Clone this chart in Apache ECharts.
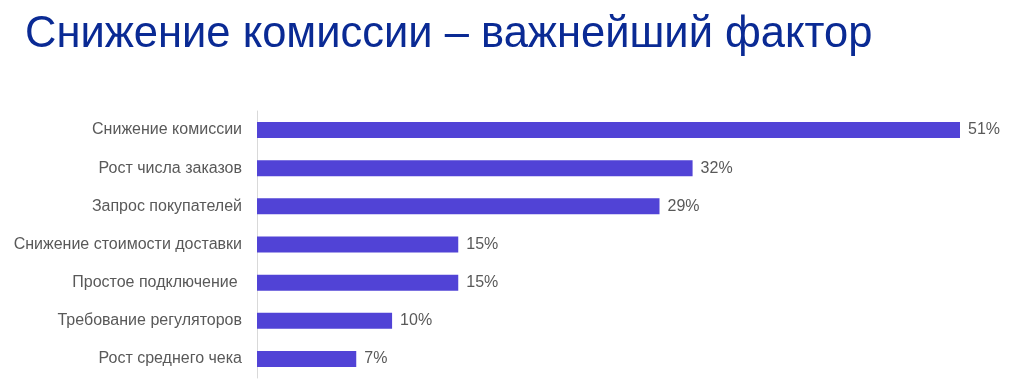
<!DOCTYPE html>
<html><head><meta charset="utf-8">
<script src="https://cdn.jsdelivr.net/npm/echarts@6/dist/echarts.min.js"></script>
<style>html,body{margin:0;padding:0;background:#fff}#c{width:1024px;height:383px}</style>
</head><body><div id="c"></div>
<script>
const titleText = 'Снижение комиссии – важнейший фактор';
const categories = ['Снижение комиссии','Рост числа заказов','Запрос покупателей','Снижение стоимости доставки','Простое подключение ','Требование регуляторов','Рост среднего чека'];
// bar lengths (labels show rounded percentages)
const values = [51, 31.6, 29.2, 14.6, 14.6, 9.8, 7.2];

const chart = echarts.init(document.getElementById('c'), null, {renderer:'canvas'});
chart.setOption({
  animation:false,
  backgroundColor:'#fff',
  title:{text:titleText, left:20, top:8, textStyle:{fontFamily:'Liberation Sans', fontSize:43.5, fontWeight:'normal', color:'#0A2A94'}},
  grid:{left:257, right:64, top:111, bottom:5, containLabel:false},
  xAxis:{type:'value', min:0, max:51, show:false},
  yAxis:{type:'category', data:categories, inverse:true,
    axisLine:{show:true, lineStyle:{color:'#d9d9d9', width:1}},
    axisTick:{show:false}, splitLine:{show:false},
    axisLabel:{margin:15, color:'#595959', fontFamily:'Liberation Sans', fontSize:16}},
  series:[{type:'bar', data:values, barWidth:16, itemStyle:{color:'#5143D6'},
    label:{show:true, position:'right', distance:8, formatter:p=>Math.round(p.value)+'%', color:'#595959', fontFamily:'Liberation Sans', fontSize:16}}]
});
</script></body></html>
